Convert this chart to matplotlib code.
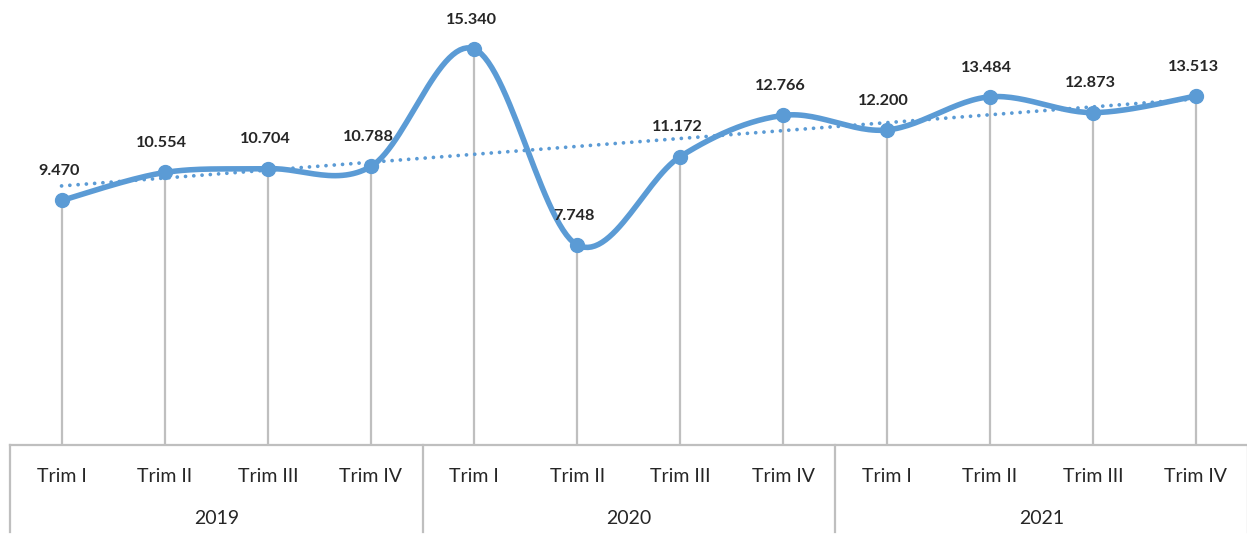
import numpy as np
import matplotlib.pyplot as plt
from matplotlib.transforms import blended_transform_factory

plt.rcParams['font.family'] = ['Lato', 'DejaVu Sans']

quarters = ['Trim I', 'Trim II', 'Trim III', 'Trim IV'] * 3
years = ['2019', '2020', '2021']
values = [9.470, 10.554, 10.704, 10.788, 15.340, 7.748,
          11.172, 12.766, 12.200, 13.484, 12.873, 13.513]

blue = '#5B9BD5'
grey = '#BFBFBF'


def smooth(x, y, steps=30):
    # excel-like smoothed line: bezier segments with catmull-rom control points
    px, py = [], []
    n = len(x)
    for i in range(n - 1):
        x0, y0 = x[max(i - 1, 0)], y[max(i - 1, 0)]
        x1, y1 = x[i], y[i]
        x2, y2 = x[i + 1], y[i + 1]
        x3, y3 = x[min(i + 2, n - 1)], y[min(i + 2, n - 1)]
        c1x, c1y = x1 + (x2 - x0) / 6.0, y1 + (y2 - y0) / 6.0
        c2x, c2y = x2 - (x3 - x1) / 6.0, y2 - (y3 - y1) / 6.0
        t = np.linspace(0, 1, steps)
        a, b, c, d = (1 - t) ** 3, 3 * (1 - t) ** 2 * t, 3 * (1 - t) * t ** 2, t ** 3
        px.extend(a * x1 + b * c1x + c * c2x + d * x2)
        py.extend(a * y1 + b * c1y + c * c2y + d * y2)
    return np.array(px), np.array(py)


fig = plt.figure(figsize=(12.47, 5.45), dpi=100)
ax = fig.add_axes([10 / 1247, 100 / 545, 1237.5 / 1247, 445 / 545])

x = np.arange(len(values))
ax.set_xlim(-0.5, len(values) - 0.5)
ax.set_ylim(0, 445 / 25.82)

# drop lines
ax.vlines(x, 0, values, color=grey, lw=1.6, zorder=1)

# trend line
k, m = np.polyfit(x, values, 1)
ax.plot(x, k * x + m, color=blue, lw=2.7, ls=(0, (0.01, 2.2)),
        dash_capstyle='round', zorder=2)

sx, sy = smooth(x, values)
ax.plot(sx, sy, color=blue, lw=4, solid_capstyle='round', zorder=3)
ax.plot(x, values, 'o', color=blue, ms=10, zorder=4)

for xi, v in zip(x, values):
    ax.annotate(f'{v:.3f}', (xi, v), xytext=(-2, 21), textcoords='offset points',
                ha='center', va='center', fontsize=11.7, fontweight='bold',
                color='#262626', zorder=5)

for s in ax.spines.values():
    s.set_visible(False)
ax.set_xticks([])
ax.set_yticks([])

# category axis box
tr = blended_transform_factory(ax.transData, ax.transAxes)
ax.plot([-0.5, 11.5], [0, 0], color=grey, lw=1.6, transform=tr, clip_on=False)
for bx in [-0.5, 3.5, 7.5, 11.5]:
    ax.plot([bx, bx], [0, -0.196], color=grey, lw=1.6, transform=tr, clip_on=False)
for xi, q in zip(x, quarters):
    ax.text(xi, -0.07, q, transform=tr, ha='center', va='center',
            fontsize=14, color='#262626')
for i, yr in enumerate(years):
    ax.text(4 * i + 1.5, -0.165, yr, transform=tr, ha='center', va='center',
            fontsize=14, color='#262626')

fig.savefig('out.png', dpi=100)
